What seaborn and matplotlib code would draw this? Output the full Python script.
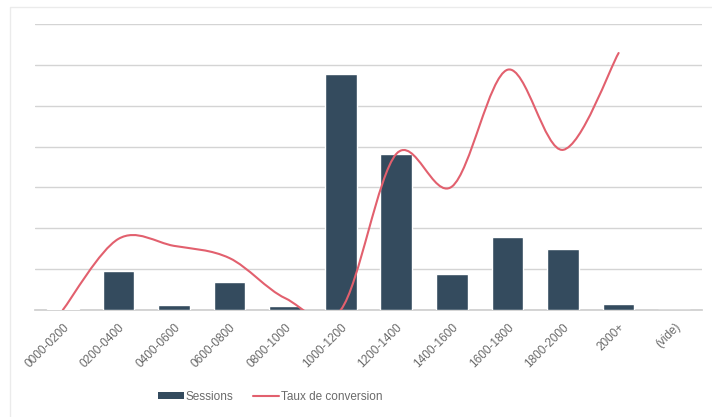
# Sessions par tranche horaire + taux de conversion (courbe lissée façon Excel)
import numpy as np
import pandas as pd
import matplotlib
matplotlib.use("Agg")
import matplotlib.pyplot as plt
from matplotlib.path import Path
from matplotlib.patches import PathPatch, Rectangle, Patch
from matplotlib.lines import Line2D
import seaborn as sns

# Valeurs (unités relatives = intervalles de grille)
categories = ["0000-0200", "0200-0400", "0400-0600", "0600-0800", "0800-1000",
              "1000-1200", "1200-1400", "1400-1600", "1600-1800", "1800-2000",
              "2000+", "(vide)"]
sessions = [0.03, 0.96, 0.12, 0.69, 0.10, 5.78, 3.82, 0.88, 1.78, 1.49, 0.14, 0.0]
conversion = [0.0, 1.74, 1.57, 1.27, 0.29, 0.0, 3.82, 3.02, 5.88, 3.92, 6.29, np.nan]

bar_color = "#344b5e"
line_color = "#e2606e"
text_color = "#6a6a6a"

sns.set_theme(style="white")
plt.rcParams["font.family"] = ["Liberation Sans", "DejaVu Sans"]

df = pd.DataFrame({"Tranche": categories, "Sessions": sessions, "Conversion": conversion})

fig = plt.figure(figsize=(7.12, 4.17), dpi=100)
ax = fig.add_axes([35 / 712, 1 - 310 / 417, 667 / 712, 286 / 417])

# cadre léger autour du graphique
fig.patches.append(Rectangle((10 / 712, -0.05), 1.0, 1 - 7 / 417 + 0.05,
                             transform=fig.transFigure, fill=False,
                             edgecolor="#ebebeb", lw=1))

sns.barplot(data=df, x="Tranche", y="Sessions", color=bar_color, saturation=1,
            width=0.57, ax=ax, zorder=3)

# courbe lissée (Bezier type Catmull-Rom, comme Excel)
pts = df.dropna(subset=["Conversion"])
xs = np.arange(len(pts), dtype=float)
ys = pts["Conversion"].to_numpy()
P = np.column_stack([xs, ys])
verts = [tuple(P[0])]
codes = [Path.MOVETO]
for i in range(len(P) - 1):
    p0 = P[i - 1] if i > 0 else P[i]
    p3 = P[i + 2] if i + 2 < len(P) else P[i + 1]
    c1 = P[i] + (P[i + 1] - p0) / 6
    c2 = P[i + 1] - (p3 - P[i]) / 6
    verts += [tuple(c1), tuple(c2), tuple(P[i + 1])]
    codes += [Path.CURVE4] * 3
ax.add_patch(PathPatch(Path(verts, codes), fill=False, edgecolor=line_color,
                       lw=1.5, zorder=4, capstyle="round"))

ax.set_xlim(-0.5, len(categories) - 0.5)
ax.set_ylim(0, 7)
ax.set_yticks(range(0, 8))
ax.set_yticklabels([])
ax.tick_params(axis="y", length=0)
ax.tick_params(axis="x", length=0, pad=8, labelsize=8.5, labelcolor=text_color)
ax.yaxis.grid(True, color="#d4d4d4", lw=1, zorder=0)
ax.set_axisbelow(True)
for s in ["top", "right", "left"]:
    ax.spines[s].set_visible(False)
ax.spines["bottom"].set_color("#cfcfcf")
ax.set_xlabel("")
ax.set_ylabel("")
plt.setp(ax.get_xticklabels(), rotation=45, ha="right", rotation_mode="anchor")

handles = [Patch(facecolor=bar_color, edgecolor="none"),
           Line2D([0], [0], color=line_color, lw=1.5)]
fig.legend(handles, ["Sessions", "Taux de conversion"], loc="center",
           bbox_to_anchor=(270 / 712, 1 - 397 / 417), ncol=2, frameon=False,
           fontsize=8.5, labelcolor=text_color, handlelength=2.2,
           handleheight=0.55, handletextpad=0.2, columnspacing=1.6)

fig.savefig("out.png", dpi=100, facecolor="white")
